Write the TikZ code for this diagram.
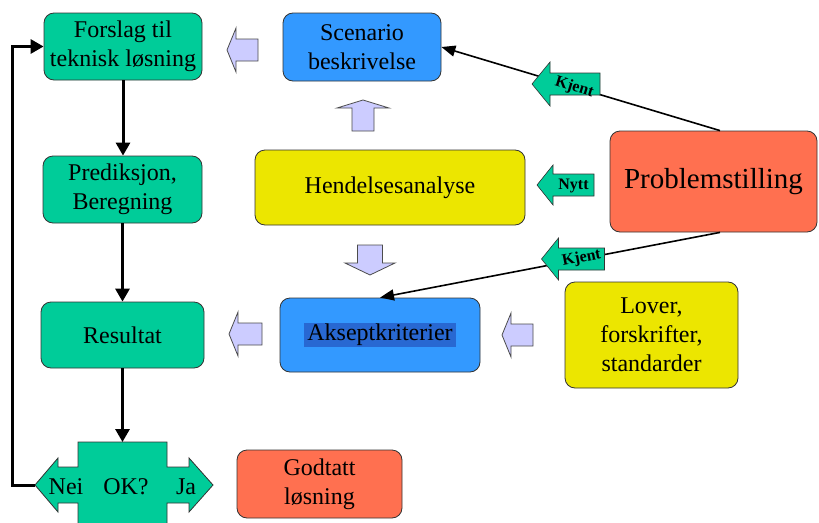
\documentclass[tikz,border=0pt]{standalone}
\usepackage{fontspec}
\setmainfont{Liberation Serif}
\usetikzlibrary{arrows.meta}
\definecolor{boxgreen}{RGB}{0,204,153}
\definecolor{boxblue}{RGB}{51,153,255}
\definecolor{boxyellow}{RGB}{236,230,0}
\definecolor{boxred}{RGB}{255,112,80}
\definecolor{lav}{RGB}{204,204,255}
\definecolor{hilite}{RGB}{40,104,210}
\begin{document}
\begin{tikzpicture}[x=1pt,y=1pt,
  box/.style={draw=black!80, line width=0.8pt, rounded corners=10pt, align=center, inner sep=0pt, font=\fontsize{24}{29}\selectfont},
  txt/.style={font=\fontsize{24}{29}\selectfont, inner sep=0pt},
  flowarrow/.style={line width=3pt, -{Triangle[width=14pt,length=13pt]}},
  thinarrow/.style={line width=1.6pt, -{Triangle[width=11pt,length=14pt]}},
  hollowarrow/.style={draw=black!70, line width=0.8pt, fill=lav},
  tagarrow/.style={draw=black!80, line width=0.6pt, fill=boxgreen},
  taglbl/.style={font=\fontsize{16}{16}\selectfont\bfseries, inner sep=0pt, transform shape},
  pics/flatarrow/.style n args={4}{code={
    \path[pic actions] (-#1/2,0) -- (-#1/2+#2,#3) -- (-#1/2+#2,#4) -- (#1/2,#4) -- (#1/2,-#4) -- (-#1/2+#2,-#4) -- (-#1/2+#2,-#3) -- cycle;}}
]
\useasboundingbox (0,0) rectangle (819,-522);
\fill[white] (0,0) rectangle (819,-522);

% boxes
\node[box, fill=boxgreen, minimum width=158pt, minimum height=67pt] (forslag) at (123,-46.5) {Forslag til\\teknisk løsning};
\node[box, fill=boxblue, minimum width=158pt, minimum height=68pt] (scen) at (362,-47) {Scenario\\beskrivelse};
\node[box, fill=boxyellow, minimum width=270pt, minimum height=75pt] (hend) at (390,-187.5) {Hendelsesanalyse};
\node[box, fill=boxred, minimum width=207pt, minimum height=101pt, font=\fontsize{29}{34}\selectfont] (prob) at (713.5,-181.5) {Problemstilling};
\node[box, fill=boxgreen, minimum width=159pt, minimum height=67pt] (pred) at (122.5,-189.5) {Prediksjon,\\Beregning};
\node[box, fill=boxgreen, minimum width=163pt, minimum height=66pt] (res) at (122.5,-335) {Resultat};
\node[box, fill=boxblue, minimum width=200pt, minimum height=74pt] (aksept) at (380,-335) {};
\node[txt, fill=hilite, inner xsep=3pt, inner ysep=1pt, text height=16pt, text depth=6pt] (akstext) at (aksept.center) {Akseptkriterier};
\node[box, fill=boxyellow, minimum width=173pt, minimum height=106pt] (lover) at (651.5,-335) {Lover,\\forskrifter,\\standarder};
\node[box, fill=boxred, minimum width=165pt, minimum height=68pt] (godtatt) at (319.5,-484) {Godtatt\\løsning};

% OK? decision shape
\begin{scope}
\clip (0,0) rectangle (819,-522);
\path[draw=black!80, line width=0.8pt, fill=boxgreen] (78,-442) -- (167,-442) -- (167,-467) -- (189,-467) -- (189,-458) -- (213,-485) -- (189,-512) -- (189,-503) -- (167,-503) -- (167,-535) -- (78,-535) -- (78,-503) -- (58,-503) -- (58,-512) -- (35,-485) -- (58,-458) -- (58,-467) -- (78,-467) -- cycle;
\end{scope}
\node[txt] (nei) at (66,-487) {Nei};
\node[txt] (ok) at (126,-487) {OK?};
\node[txt] (ja) at (186,-487) {Ja};
\coordinate (oktop) at (123,-442);
\coordinate (okleft) at (35,-485);

% hollow arrows
\pic[hollowarrow] at (242.5,-50) {flatarrow={31}{9}{22}{11}};
\pic[hollowarrow, rotate=-90] at (363,-115.5) {flatarrow={31}{8}{26}{11}};
\pic[hollowarrow, rotate=90] at (370,-260) {flatarrow={30}{12}{25}{12.5}};
\pic[hollowarrow] at (245.5,-334) {flatarrow={33}{9}{22}{11}};
\pic[hollowarrow] at (517.5,-335) {flatarrow={31}{9}{22}{11}};

% flow connectors
\draw[flowarrow] (forslag.south) -- (forslag.south |- pred.north);
\draw[flowarrow] (pred.south) -- (pred.south |- res.north);
\draw[flowarrow] (res.south) -- (res.south |- oktop);
\draw[flowarrow] (okleft) -- ++(-23,0) |- (forslag.west);

% thin connectors from Problemstilling
\draw[thinarrow] ([xshift=6.5pt]prob.north) -- (scen.east);
\draw[thinarrow] ([xshift=6.5pt]prob.south) -- (aksept.north);

% tag arrows
\pic[tagarrow] at (565.5,-185) {flatarrow={57}{16}{20}{11}};
\node[taglbl] (nytt) at (573.5,-186) {Nytt};
\begin{scope}[shift={(566,-84)}, rotate=-17]
\pic[tagarrow] at (0,0) {flatarrow={68}{18}{22}{11}};
\node[taglbl] (kjent1) at (9,-1) {Kjent};
\end{scope}
\begin{scope}[shift={(573,-259)}, rotate=11]
\pic[tagarrow] at (0,0) {flatarrow={63}{17}{21}{11}};
\node[taglbl] (kjent2) at (8.5,-1) {Kjent};
\end{scope}
\end{tikzpicture}
\end{document}
